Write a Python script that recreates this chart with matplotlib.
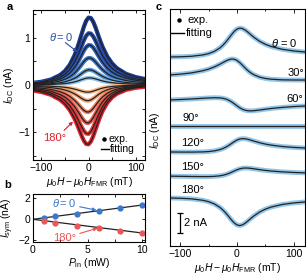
import numpy as np
import matplotlib
matplotlib.use('Agg')
import matplotlib.pyplot as plt

plt.rcParams['font.family'] = ['Liberation Sans', 'DejaVu Sans']
plt.rcParams['font.size'] = 7.5
plt.rcParams['mathtext.fontset'] = 'custom'
plt.rcParams['mathtext.rm'] = 'Liberation Sans'
plt.rcParams['mathtext.it'] = 'Liberation Sans:italic'
plt.rcParams['axes.linewidth'] = 0.8

field = np.array([-120, -100, -80, -60, -50, -40, -30, -25, -20, -15, -10, -5, 0,
                  5, 10, 15, 20, 25, 30, 40, 50, 60, 80, 100, 120])
# normalised symmetric (peak) shape
sym_shape = np.array([0.059, 0.083, 0.123, 0.200, 0.265, 0.360, 0.500, 0.590, 0.692,
                      0.800, 0.900, 0.973, 1.000, 0.973, 0.900, 0.800, 0.692, 0.590,
                      0.500, 0.360, 0.265, 0.200, 0.123, 0.083, 0.059])
# normalised antisymmetric (dispersive) shape
asym_shape = np.array([-0.235, -0.275, -0.329, -0.400, -0.441, -0.480, -0.500, -0.492,
                       -0.462, -0.400, -0.300, -0.162, 0.000, 0.162, 0.300, 0.400,
                       0.462, 0.492, 0.500, 0.480, 0.441, 0.400, 0.329, 0.275, 0.235])

# panel a: amplitudes (nA) of the curves
a_sym = [1.42, 1.09, 0.84, 0.57, 0.32, 0.15, -0.15, -0.33, -0.57, -0.80, -1.03, -1.25]
a_asym = [0.18, 0.14, 0.11, 0.07, 0.04, 0.02, 0.02, 0.04, 0.07, 0.10, 0.13, 0.16]
a_colors = ['#1c3a96', '#2549a6', '#2f5db6', '#3d76c6', '#5b9ad8', '#8cc2ea',
            '#f6bb8a', '#f2a070', '#ee7f60', '#e95d4f', '#e43d3c', '#e0202a']

# panel b
power = [1, 2, 4, 6, 8, 10]
isym_0 = [0.15, 0.30, 0.47, 0.80, 1.03, 1.40]
isym_180 = [-0.13, -0.31, -0.60, -0.80, -1.10, -1.30]
p_fit = [0, 10.25]
fit_0 = [0, 1.39]
fit_180 = [0, -1.33]

# panel c
c_labels = [r'$\theta$ = 0', '30°', '60°', '90°', '120°', '150°', '180°']
c_offset = [18.99, 16.74, 14.32, 12.00, 9.54, 7.12, 4.76]
c_sym = [2.7, 1.82, -0.3, 0.0, 1.05, 0.5, -2.65]
c_asym = [1.06, -1.06, -1.28, 0.0, 0.85, 0.7, -0.85]

blue = '#3b78cc'
red = '#ec5656'
band = '#94c6ea'

W, H = 306, 276
fig = plt.figure(figsize=(W / 100, H / 100), dpi=100)

def box(l, t, r, b):
    return [l / W, 1 - b / H, (r - l) / W, (b - t) / H]

def style(ax):
    ax.tick_params(direction='in', length=2.5, width=0.6, top=True, right=True, pad=2)

xlab = r'$\mu_0H-\mu_0H_{\rm FMR}$ (mT)'

# ---- a ----
ax = fig.add_axes(box(33, 10, 145, 160))
for s, a, col in zip(a_sym, a_asym, a_colors):
    y = s * sym_shape + a * asym_shape
    ax.plot(field, y, color=col, lw=3.0, solid_capstyle='butt')
for s, a in zip(a_sym, a_asym):
    y = s * sym_shape + a * asym_shape
    ax.plot(field, y, color='#222222', lw=0.9)
ax.set_xlim(-118, 120)
ax.set_ylim(-1.58, 1.58)
ax.set_xticks([-100, -50, 0, 50, 100])
ax.set_xticklabels(['\u2212100', '', '0', '', '100'])
ax.set_yticks([-1.5, -1, -0.5, 0, 0.5, 1, 1.5])
ax.set_yticklabels(['', '\u22121', '', '0', '', '1', ''])
style(ax)
ax.set_ylabel(r'$I_{\rm DC}$ (nA)')
ax.yaxis.set_label_coords(-0.15, 0.5)
ax.set_xlabel(xlab)
ax.xaxis.set_label_coords(0.5, -0.10)
ax.annotate(r'$\theta = 0$', xy=(-24, 0.70), xytext=(-85, 1.02), color='#2b4fa8',
            fontsize=8, va='center', ha='left',
            arrowprops=dict(arrowstyle='-|>', color='#2b4fa8', lw=0.8,
                            mutation_scale=5, shrinkA=0, shrinkB=0,
                            patchA=None, relpos=(0.7, 0)))
ax.annotate('180°', xy=(-33, -0.77), xytext=(-97, -1.12), color='#e0202a',
            fontsize=8, va='center', ha='left',
            arrowprops=dict(arrowstyle='-|>', color='#e0202a', lw=0.8,
                            mutation_scale=5, shrinkA=0, shrinkB=0,
                            relpos=(0.8, 1)))
ax.plot([33], [-1.14], 'o', color='black', ms=2.2)
ax.text(43, -1.14, 'exp.', va='center', ha='left')
ax.plot([26, 43], [-1.35, -1.35], color='black', lw=1.0)
ax.text(46, -1.35, 'fitting', va='center', ha='left')

# ---- b ----
ax = fig.add_axes(box(33, 194, 145, 242))
ax.plot(p_fit, fit_0, color='#222222', lw=0.9)
ax.plot(p_fit, fit_180, color='#222222', lw=0.9)
ax.plot(power, isym_0, 'o', color=blue, ms=4.5, mec='none')
ax.plot(power, isym_180, 'o', color=red, ms=4.5, mec='none')
ax.set_xlim(0, 10.25)
ax.set_ylim(-2.15, 2.4)
ax.set_xticks([0, 2.5, 5, 7.5, 10])
ax.set_xticklabels(['0', '', '5', '', '10'])
ax.set_yticks([-2, 0, 2])
ax.set_yticklabels(['\u22122', '0', '2'])
style(ax)
ax.set_ylabel(r'$I_{\rm sym}$ (nA)')
ax.yaxis.set_label_coords(-0.15, 0.5)
ax.set_xlabel(r'$P_{\rm in}$ (mW)')
ax.xaxis.set_label_coords(0.5, -0.30)
ax.annotate(r'$\theta = 0$', xy=(5.8, 0.87), xytext=(1.7, 1.5), color=blue,
            fontsize=8, va='center', ha='left',
            arrowprops=dict(arrowstyle='-|>', color=blue, lw=0.8,
                            mutation_scale=5, shrinkA=1, shrinkB=0))
ax.annotate('180°', xy=(5.9, -0.84), xytext=(1.8, -1.78), color=red,
            fontsize=8, va='center', ha='left',
            arrowprops=dict(arrowstyle='-|>', color=red, lw=0.8,
                            mutation_scale=5, shrinkA=1, shrinkB=0))

# ---- c ----
ax = fig.add_axes(box(170, 9, 305, 246))
for off, s, a in zip(c_offset, c_sym, c_asym):
    y = off + s * sym_shape + a * asym_shape
    ax.plot(field, y, color=band, lw=3.5, solid_capstyle='butt')
    ax.plot(field, y, color='#222222', lw=0.9)
ax.set_xlim(-118, 120)
ax.set_ylim(0, 23.7)
ax.set_xticks([-100, 0, 100])
ax.set_xticklabels(['\u2212100', '0', '100'])
ax.set_xticks([-50, 50], minor=True)
ax.set_yticks([])
ax.tick_params(axis='x', which='major', direction='in', length=3, width=0.6,
               top=True, pad=2)
ax.tick_params(axis='x', which='minor', direction='in', length=1.5, width=0.6, top=True)
ax.set_ylabel(r'$I_{\rm DC}$ (nA)')
ax.yaxis.set_label_coords(-0.06, 0.49)
ax.set_xlabel(xlab)
ax.xaxis.set_label_coords(0.5, -0.062)
label_pos = [(107, 20.3, 'right'), (118, 17.3, 'right'), (116, 14.7, 'right'),
             (-96, 12.8, 'left'), (-98, 10.3, 'left'), (-98, 7.9, 'left'),
             (-98, 5.6, 'left')]
for (x, y, ha), lab in zip(label_pos, c_labels):
    ax.text(x, y, lab, ha=ha, va='center', fontsize=8)
ax.plot([-102], [22.6], 'o', color='black', ms=2.2)
ax.text(-88, 22.6, 'exp.', va='center', ha='left', fontsize=8)
ax.plot([-116, -93], [21.3, 21.3], color='black', lw=1.0)
ax.text(-90, 21.3, 'fitting', va='center', ha='left', fontsize=8)
# 2 nA scale bar
ax.errorbar([-100.5], [2.33], yerr=[1.0], color='black', lw=0.9, capsize=2.5,
            capthick=0.9)
ax.text(-93, 2.33, '2 nA', va='center', ha='left', fontsize=8)

fig.text(10 / W, 1 - 7 / H, 'a', weight='bold', ha='center', va='center', fontsize=8)
fig.text(8 / W, 1 - 185 / H, 'b', weight='bold', ha='center', va='center', fontsize=8)
fig.text(159 / W, 1 - 7 / H, 'c', weight='bold', ha='center', va='center', fontsize=8)

fig.savefig('out.png', dpi=100)
